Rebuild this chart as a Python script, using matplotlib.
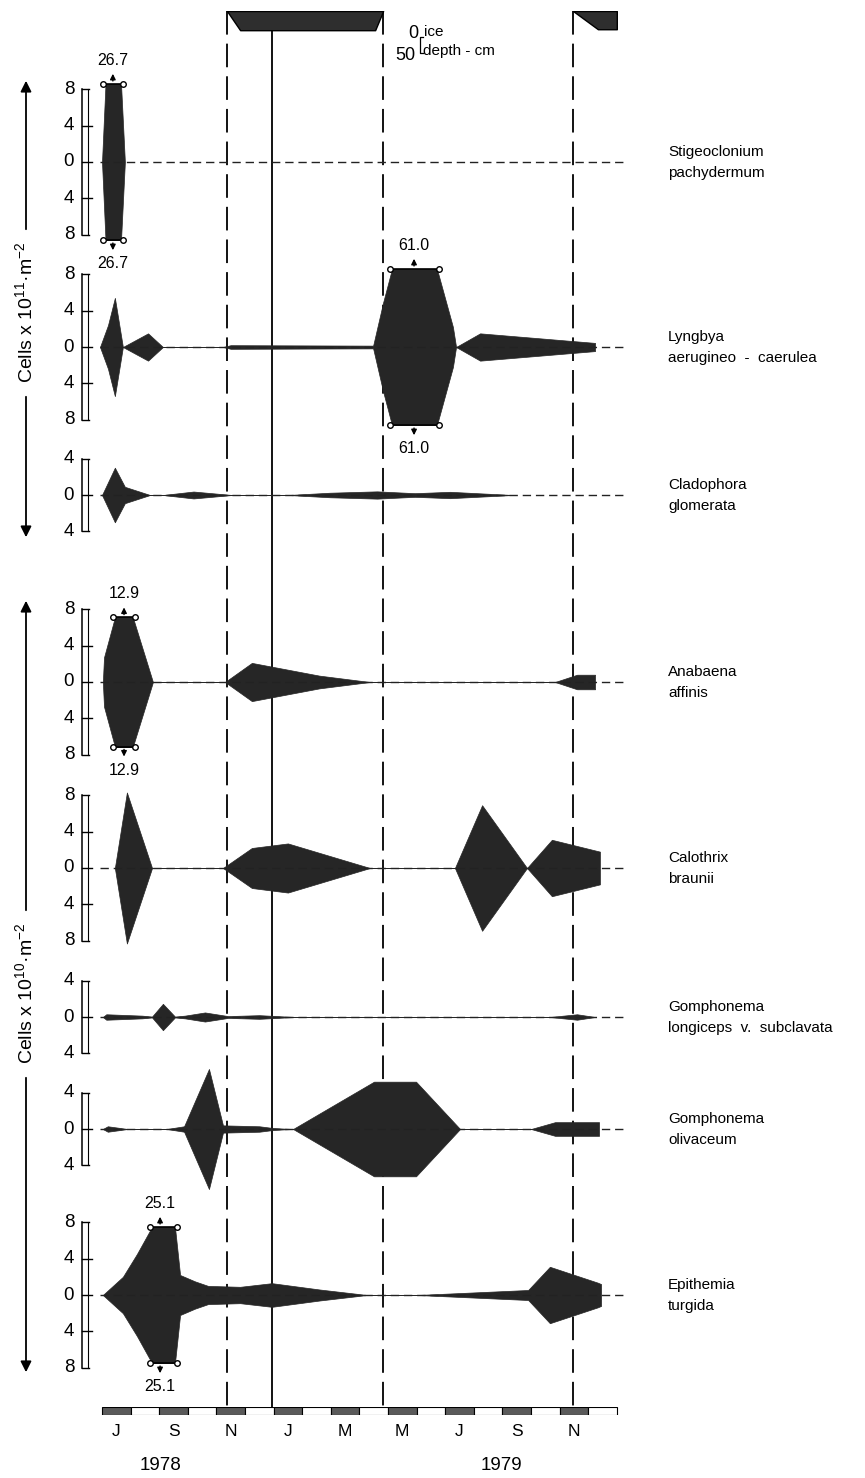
import numpy as np
import matplotlib
matplotlib.use('Agg')
import matplotlib.pyplot as plt
from matplotlib.patches import Rectangle

plt.rcParams['font.family'] = ['Liberation Sans', 'DejaVu Sans']
plt.rcParams['mathtext.fontset'] = 'custom'
plt.rcParams['mathtext.rm'] = 'Liberation Sans'
plt.rcParams['lines.scale_dashes'] = False

W, H = 865, 1478
KITE = '#262626'

# time axis: months since 1 July 1978
n_months = 18
month_labels = ['J', 'S', 'N', 'J', 'M', 'M', 'J', 'S', 'N']
month_label_t = [0.5, 2.5, 4.5, 6.5, 8.5, 10.5, 12.5, 14.5, 16.5]
years = ['1978', '1979']
year_t = [2.05, 13.95]

# ice cover, thickness in cm
ice1_t = [4.37, 4.83, 9.55, 9.83]
ice1_d = [0, 60, 60, 0]
ice2_t = [16.47, 17.34, 18.0]
ice2_d = [0, 57, 57]
ice_dashed_t = [4.37, 9.83, 16.47]
ice_solid_t = [5.94]

# species and cell densities (x10^11 m^-2 for the first three, x10^10 m^-2 for the rest)
names = [('Stigeoclonium', 'pachydermum'),
         ('Lyngbya', 'aerugineo  -  caerulea'),
         ('Cladophora', 'glomerata'),
         ('Anabaena', 'affinis'),
         ('Calothrix', 'braunii'),
         ('Gomphonema', 'longiceps  v.  subclavata'),
         ('Gomphonema', 'olivaceum'),
         ('Epithemia', 'turgida')]

stig_t = [0.0, 0.38, 0.80]
stig_v = [0, 26.7, 0]

lyng_t = [-0.07, 0.21, 0.45, 0.73, 1.61, 2.13,
          4.23, 4.50, 9.48, 9.83, 10.14, 10.91, 11.71, 12.27, 12.38, 13.22, 17.24, 17.24]
lyng_v = [0, 2.4, 5.4, 0, 1.5, 0,
          0, 0.2, 0.15, 4.9, 8.6, 61.0, 8.6, 2.2, 0, 1.5, 0.45, 0]

clad_t = [0.0, 0.45, 0.80, 1.68, 2.13, 3.20, 4.55, 6.50, 7.97, 9.62, 10.94, 12.17, 14.37]
clad_v = [0, 3.0, 0.9, 0, 0, 0.38, 0, 0, 0.25, 0.4, 0.2, 0.35, 0]

anab_t = [0.03, 0.07, 0.45, 0.77, 1.08, 1.78, 4.30, 5.24, 7.60, 9.37, 15.84, 16.61, 17.24, 17.24]
anab_v = [0, 2.7, 7.1, 12.9, 7.1, 0, 0, 2.1, 0.7, 0, 0, 0.8, 0.8, 0]

calo_t = [0.45, 0.87, 1.75, 4.23, 5.24, 6.50, 9.37, 12.34, 13.29, 14.86, 15.73, 17.41, 17.41]
calo_v = [0, 8.3, 0, 0, 2.2, 2.7, 0, 0, 6.9, 0, 3.1, 1.8, 0]

glon_t = [0.03, 0.15, 1.40, 1.75, 2.13, 2.55, 2.90, 3.60, 4.41, 5.50, 6.75, 15.66, 16.61, 17.24]
glon_v = [0, 0.3, 0.15, 0.05, 1.45, 0.05, 0.15, 0.5, 0.1, 0.2, 0, 0, 0.3, 0]

goli_t = [0.03, 0.20, 0.90, 2.27, 2.87, 3.74, 4.23, 5.50, 6.00, 6.68, 9.51, 10.98, 12.52,
          15.00, 15.84, 17.38, 17.38]
goli_v = [0, 0.3, 0, 0, 0.3, 6.6, 0.4, 0.3, 0.1, 0, 5.2, 5.2, 0,
          0, 0.75, 0.75, 0]

epit_t = [0.03, 0.73, 1.22, 1.75, 2.03, 2.55, 2.73, 3.25, 3.71, 4.83, 5.94, 7.62, 9.27,
          11.01, 14.90, 15.66, 17.34, 17.45, 17.45]
epit_v = [0, 2.0, 4.5, 7.5, 25.1, 7.5, 2.2, 1.5, 1.0, 0.9, 1.3, 0.6, 0,
          0, 0.55, 3.1, 1.35, 1.2, 0]

series = [(stig_t, stig_v), (lyng_t, lyng_v), (clad_t, clad_v), (anab_t, anab_v),
          (calo_t, calo_v), (glon_t, glon_v), (goli_t, goli_v), (epit_t, epit_v)]
scale_max = [8, 8, 4, 8, 8, 4, 4, 8]
caps = [8.6, 8.6, None, 7.1, None, None, None, 7.5]

# layout (pixels)
X0, PX_MONTH = 102, 28.6
UNIT = 9.1
baselines = [162, 347, 495, 682, 868, 1017, 1129, 1295]
xlim = (-X0 / PX_MONTH, (W - X0) / PX_MONTH)


def fx(px):
    return px / W


def fy(py):
    return 1 - py / H


def tx(px):
    return (px - X0) / PX_MONTH


fig = plt.figure(figsize=(W / 100, H / 100), dpi=100)
fig.patch.set_facecolor('white')

# background axes: x in months, y in pixels
bg = fig.add_axes([0, 0, 1, 1])
bg.set_xlim(*xlim)
bg.set_ylim(H, 0)
bg.axis('off')

# ice on / ice off lines
bg.vlines(ice_dashed_t, 11, 1407, color='black', lw=1.3, linestyles=[(0, (17, 6.5))])
bg.vlines(ice_solid_t, 30, 1407, color='black', lw=1.3)

# ice cover, 50 cm = 16 px
ice_ax = fig.add_axes([0, fy(11 + 32), 1, 32 / H])
ice_ax.set_xlim(*xlim)
ice_ax.set_ylim(100, 0)
ice_ax.axis('off')
ice_ax.fill_between(ice1_t, 0, ice1_d, facecolor='#2e2e2e', lw=1, edgecolor='black')
ice_ax.fill_between(ice2_t, 0, ice2_d, facecolor='#2e2e2e', lw=1, edgecolor='black')

fig.text(fx(413), fy(34), '0', fontsize=13, ha='center', va='center')
fig.text(fx(424), fy(32), 'ice', fontsize=11, ha='left', va='center')
fig.text(fx(405), fy(56), '50', fontsize=13, ha='center', va='center')
fig.text(fx(423), fy(51), 'depth - cm', fontsize=11, ha='left', va='center')
bg.plot([tx(423), tx(420), tx(420), tx(423)], [37, 37, 53, 53], color='black', lw=0.9)


def crossings(t, v, cap):
    out = []
    for i in range(len(t) - 1):
        a, b = v[i], v[i + 1]
        if a < cap <= b or a >= cap > b:
            out.append(t[i] + (cap - a) / (b - a) * (t[i + 1] - t[i]))
    return out[0], out[-1]


for k, (t, v) in enumerate(series):
    base = baselines[k]
    R = 12
    ax = fig.add_axes([0, fy(base + R * UNIT), 1, 2 * R * UNIT / H])
    ax.set_xlim(*xlim)
    ax.set_ylim(-R, R)
    ax.axis('off')

    # dashed zero line
    ax.plot([-0.07, 18.36], [0, 0], color='#222222', lw=1.0, ls=(0, (6, 3.5)))

    t = np.asarray(t, float)
    v = np.asarray(v, float)
    coll = ax.fill_between(t, -v, v, facecolor=KITE, edgecolor=KITE, lw=0.5)
    cap = caps[k]
    if cap:
        clip = Rectangle((t.min() - 1, -cap), t.max() - t.min() + 2, 2 * cap,
                         transform=ax.transData)
        coll.set_clip_path(clip)
        t1, t2 = crossings(t, v, cap)
        tp = t[np.argmax(v)]
        for s in (1, -1):
            ax.plot([t1 - 0.08, t2 + 0.08], [s * cap, s * cap], color='black', lw=1.2)
            ax.plot([t1 - 0.08, t2 + 0.08], [s * cap, s * cap], ls='none', marker='o', ms=4,
                    mfc='white', mec='black', mew=1)
            ax.annotate('', xy=(tp, s * (cap + 1.4)), xytext=(tp, s * cap),
                        arrowprops=dict(arrowstyle='-|>', color='black', lw=1, mutation_scale=8))
            ax.text(tp, s * (cap + 2.6), f'{v.max():.1f}', ha='center', va='center',
                    fontsize=11.5)

    # scale bar with ticks every 4 units
    M = scale_max[k]
    tr = ax.get_yaxis_transform()
    ax.plot([fx(82), fx(82)], [-M, M], color='black', lw=1.1, transform=tr)
    ax.plot([fx(88), fx(88)], [-M, M], color='black', lw=0.8, transform=tr)
    for tv in np.arange(-M, M + 1, 4):
        ax.plot([fx(82), fx(92 if abs(tv) < M else 89)], [tv, tv], color='black', lw=1.0,
                transform=tr)
        ax.text(fx(69), tv, f'{abs(tv):g}', transform=tr, ha='center', va='center',
                fontsize=13.5)

    fig.text(fx(668), fy(base - 10), names[k][0], fontsize=11, ha='left', va='center')
    fig.text(fx(668), fy(base + 11), names[k][1], fontsize=11, ha='left', va='center')

# y axis labels with arrows
for y_text, y_top, y_bot, exp in [(312, 78, 540, '11'), (993, 598, 1375, '10')]:
    fig.text(fx(26), fy(y_text), 'Cells x 10$^{%s}$·m$^{-2}$' % exp, rotation=90,
             ha='center', va='center', fontsize=14)
    bg.annotate('', xy=(tx(26), y_top), xytext=(tx(26), y_text - 80),
                arrowprops=dict(arrowstyle='-|>', color='black', lw=1.3, mutation_scale=16))
    bg.annotate('', xy=(tx(26), y_bot), xytext=(tx(26), y_text + 82),
                arrowprops=dict(arrowstyle='-|>', color='black', lw=1.3, mutation_scale=16))

# month bar
bar_ax = fig.add_axes([0, fy(1415), 1, 8 / H])
bar_ax.set_xlim(*xlim)
bar_ax.set_ylim(0, 1)
bar_ax.axis('off')
months = np.arange(n_months)
colors = ['#5a5a5a' if m % 2 == 0 else 'white' for m in months]
bar_ax.bar(months, 1, width=1, align='edge', color=colors, edgecolor='black', lw=0.8)

for lab, tm in zip(month_labels, month_label_t):
    bg.text(tm, 1432, lab, ha='center', va='center', fontsize=12.5)
for lab, tm in zip(years, year_t):
    bg.text(tm, 1465, lab, ha='center', va='center', fontsize=13.5)

fig.savefig('out.png', dpi=100)
